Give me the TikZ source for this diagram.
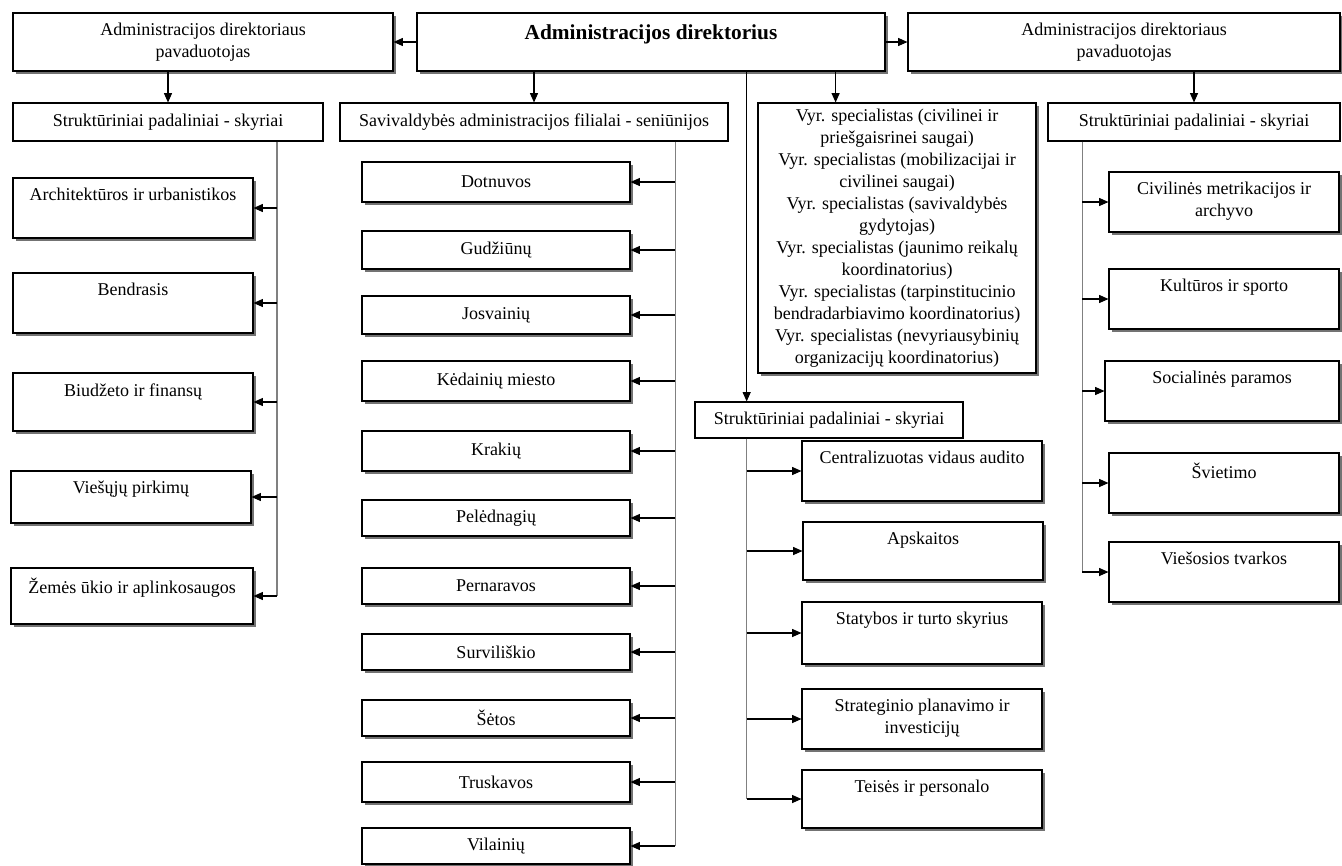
\documentclass[tikz,border=0pt]{standalone}
\usepackage{fontspec}
\setmainfont{Liberation Serif}
\usetikzlibrary{arrows.meta}
\usetikzlibrary{shadows}
\usetikzlibrary{calc}
\tikzset{
  unit/.style={draw, line width=0.8pt, fill=white, inner sep=0pt, align=center,
    drop shadow={shadow xshift=2pt, shadow yshift=-2pt, fill=black!55, opacity=1}},
  head/.style={draw, line width=0.8pt, fill=white, inner sep=0pt, align=center},
  sz/.style 2 args={minimum width=#1*0.75pt, minimum height=#2*0.75pt},
  toptext/.style={anchor=north, align=center, inner sep=8pt},
  arr/.style={-{Triangle[length=7pt,width=6pt]}, line width=0.8pt},
  trunk/.style={draw=black!50, line width=1.1pt}
}

\begin{document}
\begin{tikzpicture}[x=0.75pt, y=-0.75pt, font=\fontsize{13.5}{16.5}\selectfont]
    \useasboundingbox (0,0) rectangle (1342,865);

    % Top row: director & deputies
    \node[unit, sz={468}{58},
      label={[toptext, inner sep=9pt, font=\bfseries\fontsize{16}{18}\selectfont]north:Administracijos direktorius}] (dir) at (651,42) {};
    \node[unit, sz={380}{58}] (dep1) at (203,42) {Administracijos direktoriaus\\pavaduotojas};
    \node[unit, sz={432}{58}] (dep2) at (1124,42) {Administracijos direktoriaus\\pavaduotojas};

    % Second row: headers
    \node[head, sz={310}{38}] (str1) at (168,122) {Struktūriniai padaliniai - skyriai};
    \node[head, sz={388}{38}] (sav) at (534,122) {Savivaldybės administracijos filialai - seniūnijos};
    \node[unit, sz={278}{270}] (vyr) at (897,238) {Vyr. specialistas (civilinei ir\\priešgaisrinei saugai)\\
      Vyr. specialistas (mobilizacijai ir\\civilinei saugai)\\
      Vyr. specialistas (savivaldybės\\gydytojas)\\
      Vyr. specialistas (jaunimo reikalų\\koordinatorius)\\
      Vyr. specialistas (tarpinstitucinio\\bendradarbiavimo koordinatorius)\\
      Vyr. specialistas (nevyriausybinių\\organizacijų koordinatorius)};
    \node[head, sz={292}{38}] (str2) at (1194,122) {Struktūriniai padaliniai - skyriai};
    \node[head, sz={268}{36}] (str3) at (829,420) {Struktūriniai padaliniai - skyriai};

    % Left column: departments
    \node[unit, sz={240}{60}, label={[toptext]north:Architektūros ir urbanistikos}] (arch) at (133,208) {};
    \node[unit, sz={240}{60}, label={[toptext]north:Bendrasis}] (bend) at (133,303) {};
    \node[unit, sz={240}{58}, label={[toptext]north:Biudžeto ir finansų}] (biud) at (133,402) {};
    \node[unit, sz={240}{52}, label={[toptext]north:Viešųjų pirkimų}] (vpirk) at (131,497) {};
    \node[unit, sz={242}{56}, label={[toptext]north:Žemės ūkio ir aplinkosaugos}] (zem) at (132,596) {};

    % Middle column: elderships
    \node[unit, sz={268}{40}] (dot) at (496,182) {Dotnuvos};
    \node[unit, sz={268}{38}] (gud) at (496,250) {Gudžiūnų};
    \node[unit, sz={268}{38}] (jos) at (496,315) {Josvainių};
    \node[unit, sz={268}{40}] (ked) at (496,381) {Kėdainių miesto};
    \node[unit, sz={268}{40}] (kra) at (496,451) {Krakių};
    \node[unit, sz={268}{36}] (pel) at (496,518) {Pelėdnagių};
    \node[unit, sz={268}{36}] (per) at (496,586) {Pernaravos};
    \node[unit, sz={268}{36}] (sur) at (496,652) {Surviliškio};
    \node[unit, sz={268}{36}] (set) at (496,718) {Šėtos};
    \node[unit, sz={268}{40}] (tru) at (496,782) {Truskavos};
    \node[unit, sz={268}{36}] (vil) at (496,846) {Vilainių};

    % Lower column: departments
    \node[unit, sz={240}{60}, label={[toptext]north:Centralizuotas vidaus audito}] (cen) at (922,471) {};
    \node[unit, sz={240}{58}, label={[toptext]north:Apskaitos}] (aps) at (923,551) {};
    \node[unit, sz={240}{62}, label={[toptext]north:Statybos ir turto skyrius}] (stat) at (922,633) {};
    \node[unit, sz={240}{60}, label={[toptext]north:Strateginio planavimo ir\\investicijų}] (strat) at (922,719) {};
    \node[unit, sz={240}{58}, label={[toptext]north:Teisės ir personalo}] (teis) at (922,799) {};

    % Right column: departments
    \node[unit, sz={230}{60}, label={[toptext]north:Civilinės metrikacijos ir\\archyvo}] (civ) at (1224,202) {};
    \node[unit, sz={230}{60}, label={[toptext]north:Kultūros ir sporto}] (kult) at (1224,299) {};
    \node[unit, sz={234}{60}, label={[toptext]north:Socialinės paramos}] (soc) at (1222,391) {};
    \node[unit, sz={230}{60}, label={[toptext]north:Švietimo}] (svi) at (1224,483) {};
    \node[unit, sz={230}{60}, label={[toptext]north:Viešosios tvarkos}] (vtv) at (1224,572) {};

    % Trunk points
    \coordinate (t1) at ($(str1.south west)!0.85!(str1.south east)$);
    \coordinate (t2) at ($(sav.south west)!0.863!(sav.south east)$);
    \coordinate (t3) at ($(str3.north west)!0.194!(str3.north east)$);
    \coordinate (t4) at ($(str2.south west)!0.119!(str2.south east)$);
    \coordinate (v1) at ($(vyr.north west)!0.28!(vyr.north east)$);

    % Arrows: director & deputies
    \draw[arr] (dir.west) -- (dep1.east);
    \draw[arr] (dir.east) -- (dep2.west);
    \draw[arr] (str1.north |- dep1.south) -- (str1.north);
    \draw[arr] (str2.north |- dep2.south) -- (str2.north);
    \draw[arr] (sav.north |- dir.south) -- (sav.north);
    \draw[arr] (v1 |- dir.south) -- (v1);
    \draw[arr] (t3 |- dir.south) -- (t3);

    % Trunks
    \draw[trunk] (t1) -- (t1 |- zem.east);
    \draw[trunk] (t2) -- (t2 |- vil.east);
    \draw[trunk] (t3 |- str3.south) -- (t3 |- teis.west);
    \draw[trunk] (t4) -- (t4 |- vtv.west);

    % Branches
    \foreach \n in {arch,bend,biud,vpirk,zem}
      \draw[arr] (t1 |- \n.east) -- (\n.east);
    \foreach \n in {dot,gud,jos,ked,kra,pel,per,sur,set,tru,vil}
      \draw[arr] (t2 |- \n.east) -- (\n.east);
    \foreach \n in {cen,aps,stat,strat,teis}
      \draw[arr] (t3 |- \n.west) -- (\n.west);
    \foreach \n in {civ,kult,soc,svi,vtv}
      \draw[arr] (t4 |- \n.west) -- (\n.west);

\end{tikzpicture}
\end{document}
